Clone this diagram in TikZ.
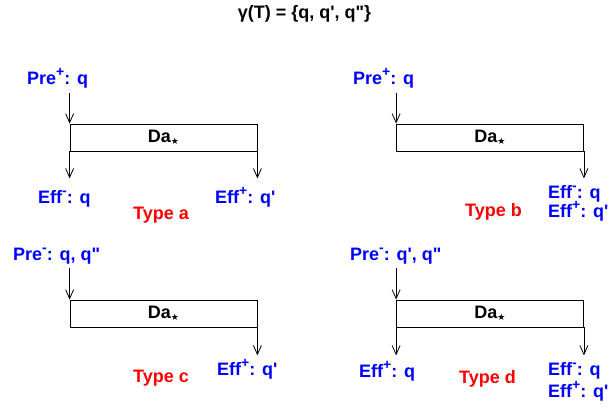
\documentclass[tikz,border=0pt]{standalone}
\usepackage{fontspec}
\setmainfont{Liberation Sans}
\newfontfamily\symfont{DejaVu Sans}
\usetikzlibrary{arrows.meta,positioning}
\newcommand{\supr}[1]{\raisebox{0.42em}{\fontsize{14}{14}\selectfont #1}}
\newcommand{\dastar}{Da\raisebox{-2pt}{\fontsize{9}{9}\selectfont\symfont ★}}

\begin{document}
\begin{tikzpicture}
[x=1pt,y=-1pt,>={Straight Barb[length=9pt,width=8pt]},
lab/.style = {inner sep=0pt, anchor=base west, text=blue, font=\fontsize{18}{21}\selectfont\bfseries},
typ/.style = {lab, text=red},
da/.style = {draw, line width=0.8pt, minimum width=187pt, minimum height=27pt, inner sep=0pt, font=\fontsize{18}{21}\selectfont\bfseries},
conn/.style = {->, line width=0.8pt},]
\useasboundingbox (0,0) rectangle (609,407);
\node (title) at (304.5,18)[lab,anchor=base,text=black] {γ(T) = \{q, q\textquotesingle, q\textquotedbl\}};
% boxes
\node (da1) at (163.5,137.5)[da] {\dastar};
\node (da2) at (490,137.5)[da] {\dastar};
\node (da3) at (163.5,313.5)[da] {\dastar};
\node (da4) at (490,313.5)[da] {\dastar};
% type a
\node (pre1) at (27,84)[lab] {Pre\supr{+}: q};
\node (effm1) at (38,203)[lab] {Eff\supr{-}: q};
\node (effp1) at (215,203)[lab] {Eff\supr{+}: q\textquotesingle};
\node (typa) at (133,219)[typ] {Type a};
% type b
\node (pre2) at (353,84)[lab] {Pre\supr{+}: q};
\node (effm2) at (548,198)[lab] {Eff\supr{-}: q};
\node (effp2) at (548,217)[lab] {Eff\supr{+}: q\textquotesingle};
\node (typb) at (465,216)[typ] {Type b};
% type c
\node (pre3) at (13,260)[lab] {Pre\supr{-}: q, q\textquotedbl};
\node (effp3) at (217,375)[lab] {Eff\supr{+}: q\textquotesingle};
\node (typc) at (133,382)[typ] {Type c};
% type d
\node (pre4) at (350,260)[lab] {Pre\supr{-}: q\textquotesingle, q\textquotedbl};
\node (effp4) at (359,377)[lab] {Eff\supr{+}: q};
\node (typd) at (459,383)[typ] {Type d};
\node (effm4) at (548,375)[lab] {Eff\supr{-}: q};
\node (effq4) at (548,397)[lab] {Eff\supr{+}: q\textquotesingle};
% arrow ends
\coordinate[above=31pt of da1.north west] (pa1);
\coordinate[above=31pt of da2.north west] (pa2);
\coordinate[above=32pt of da3.north west] (pa3);
\coordinate[above=32pt of da4.north west] (pa4);
\coordinate[below=27pt of da1.south west] (ea1);
\coordinate[below=27pt of da1.south east] (eb1);
\coordinate[below=27pt of da2.south east] (eb2);
\coordinate[below=28pt of da3.south east] (eb3);
\coordinate[below=28pt of da4.south west] (ea4);
\coordinate[below=28pt of da4.south east] (eb4);
\draw[conn] (pa1)--(da1.north west);
\draw[conn] (da1.south west)--(ea1);
\draw[conn] (da1.south east)--(eb1);
\draw[conn] (pa2)--(da2.north west);
\draw[conn] (da2.south east)--(eb2);
\draw[conn] (pa3)--(da3.north west);
\draw[conn] (da3.south east)--(eb3);
\draw[conn] (pa4)--(da4.north west);
\draw[conn] (da4.south west)--(ea4);
\draw[conn] (da4.south east)--(eb4);
\end{tikzpicture}
\end{document}
